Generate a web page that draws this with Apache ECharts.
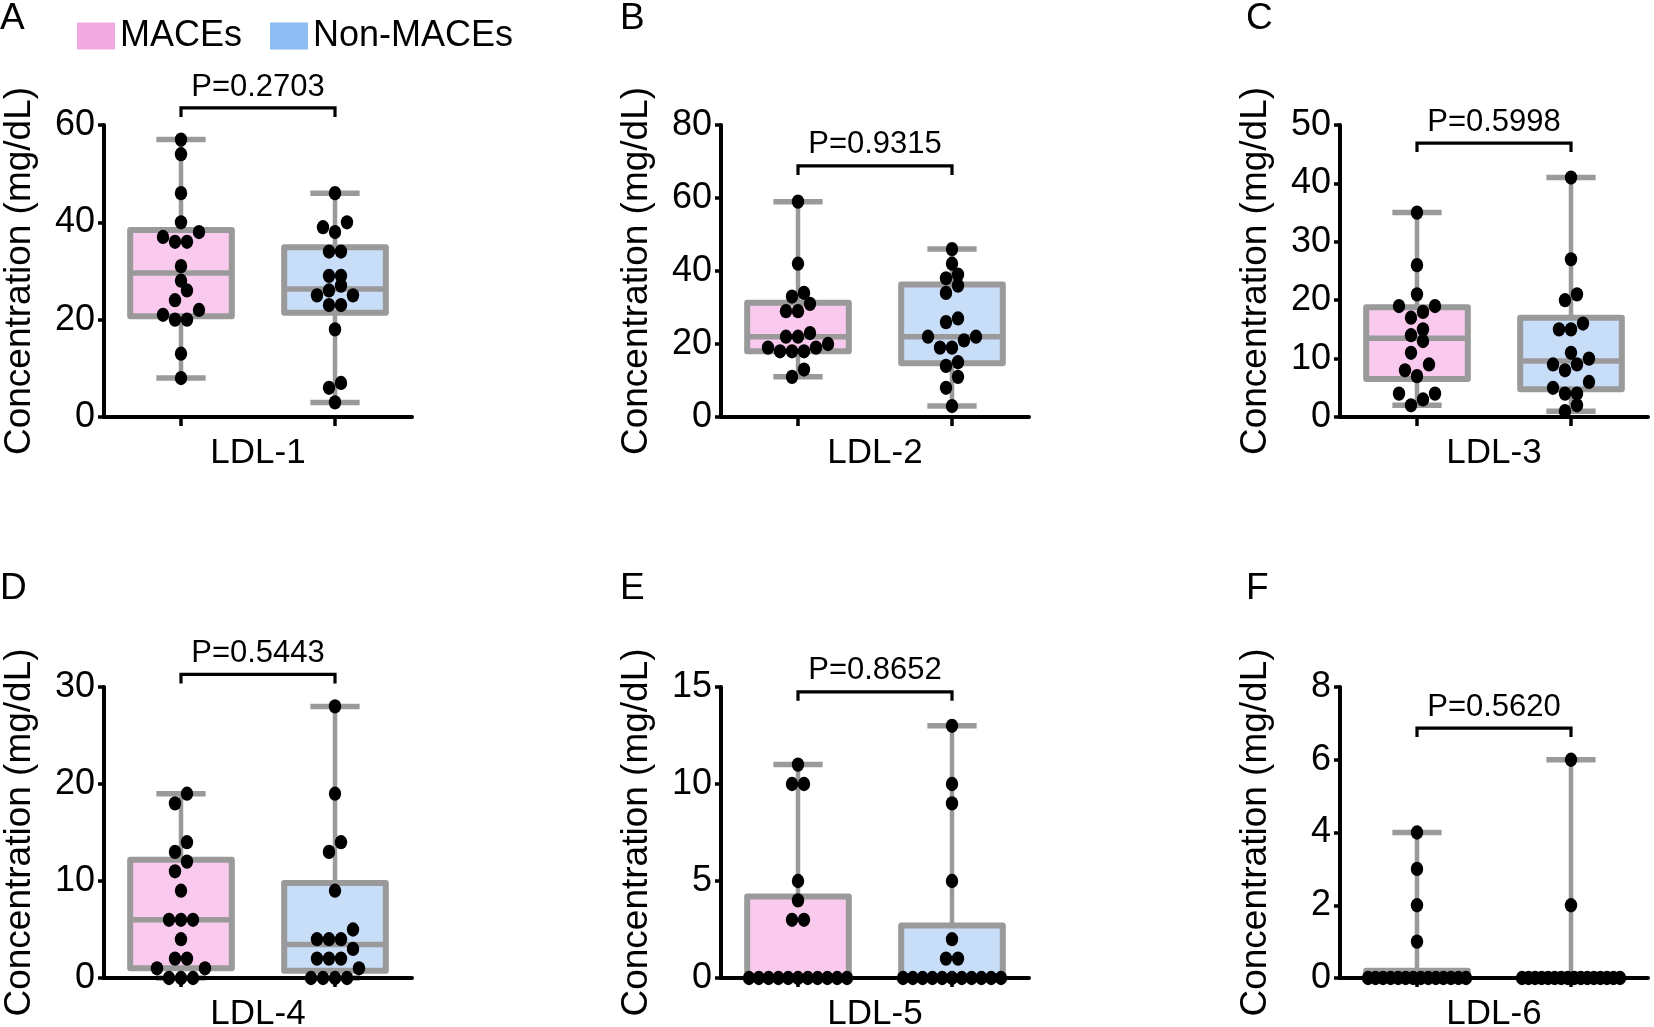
<!DOCTYPE html>
<html>
<head>
<meta charset="utf-8">
<script src="https://cdn.jsdelivr.net/npm/echarts@6/dist/echarts.min.js"></script>
<style>
  html, body { margin: 0; padding: 0; background: #fff; }
  #chart { width: 1654px; height: 1027px; }
</style>
</head>
<body>
<div id="chart"></div>
<script>
// 分组与面板
const groups = ['MACEs', 'Non-MACEs'];
const panelLetters = ['A', 'B', 'C', 'D', 'E', 'F'];
const markers = ['LDL-1', 'LDL-2', 'LDL-3', 'LDL-4', 'LDL-5', 'LDL-6'];
const pTexts = ['P=0.2703', 'P=0.9315', 'P=0.5998', 'P=0.5443', 'P=0.8652', 'P=0.5620'];

// 纵轴刻度
const yMax = [60, 80, 50, 30, 15, 8];
const yStep = [20, 20, 10, 10, 5, 2];
// 显著性括号所在的数值高度
const bracketLevel = [63.5, 68.8, 46.9, 31.3, 14.75, 6.87];

// 箱线统计 [min, Q1, median, Q3, max]
const boxMaces = [
    [8, 20.7, 29.6, 38.4, 57],
    [11, 18, 22, 31.3, 59],
    [2, 6.5, 13.5, 18.8, 35],
    [0, 1, 6, 12.2, 19],
    [0, 0, 0, 4.2, 11],
    [0, 0, 0, 0.2, 4]
];
const boxNon = [
    [3, 21.4, 26.3, 34.9, 46],
    [3, 14.7, 22, 36.3, 46],
    [1, 4.75, 9.6, 17, 41],
    [0, 0.75, 3.45, 9.8, 28],
    [0, 0, 0, 2.7, 13],
    [0, 0, 0, 0, 6]
];

// 个体数据点
const ptsMaces = [
    [57, 54, 46, 40, 38, 37, 36, 36, 31, 28, 26, 24, 22, 21, 20, 20, 13, 8],
    [59, 42, 34, 33, 31, 29, 29, 23, 22, 22, 20, 19, 19, 18, 18, 18, 13, 11],
    [35, 26, 21, 19, 19, 18, 17, 15, 14, 13, 11, 9, 8, 7, 4, 4, 3, 2],
    [19, 18, 14, 13, 12, 11, 9, 6, 6, 6, 4, 2, 2, 1, 1, 0, 0, 0],
    [11, 10, 10, 5, 4, 3, 3, 0, 0, 0, 0, 0, 0, 0, 0, 0, 0, 0],
    [4, 3, 2, 1, 0, 0, 0, 0, 0, 0, 0, 0, 0, 0, 0, 0, 0, 0]
];
const ptsNon = [
    [46, 40, 39, 38, 34, 34, 29, 29, 27, 26, 25, 25, 23, 23, 18, 7, 6, 3],
    [46, 42, 39, 38, 36, 34, 27, 26, 22, 22, 21, 19, 19, 15, 14, 11, 8, 3],
    [41, 27, 21, 20, 16, 15, 15, 11, 10, 9, 9, 8, 6, 5, 4, 4, 2, 1],
    [28, 19, 14, 13, 9, 5, 4, 4, 4, 3, 2, 2, 2, 1, 0, 0, 0, 0],
    [13, 10, 9, 5, 2, 1, 1, 0, 0, 0, 0, 0, 0, 0, 0, 0, 0, 0],
    [6, 2, 0, 0, 0, 0, 0, 0, 0, 0, 0, 0, 0, 0, 0, 0, 0, 0]
];

const FONT = 'Arial, "Liberation Sans", sans-serif';
const GRAY = '#9a9a9a';
const boxFill = ['#f9caee', '#c8ddf8'];
const legendFill = ['#f2abe0', '#8cbcf2'];

const gridLeft = [104, 721, 1340];
const gridTop = [125, 687];
const gridHeight = [292, 291];

// 蜂群图：按行分组并居中排列
function swarmOffsets(ys, d, rowH, maxSpan) {
    const order = ys.map((y, i) => i).sort((a, b) => ys[b] - ys[a]);
    const off = ys.map(() => 0);
    let row = [];
    const flush = () => {
        const n = row.length;
        if (!n) return;
        const s = n > 1 ? Math.min(d, maxSpan / (n - 1)) : 0;
        const slots = [];
        for (let k = 0; k < n; k++) slots.push((k - (n - 1) / 2) * s);
        slots.sort((a, b) => Math.abs(a) - Math.abs(b) || a - b);
        row.forEach((i, k) => { off[i] = slots[k]; });
        row = [];
    };
    order.forEach(i => {
        if (row.length && ys[row[0]] - ys[i] >= rowH) flush();
        row.push(i);
    });
    flush();
    return off;
}

const swarmCache = {};

function renderBox(params, api) {
    const c = api.value(0);
    const lo = api.coord([c, api.value(1)]);
    const q1 = api.coord([c, api.value(2)]);
    const md = api.coord([c, api.value(3)]);
    const q3 = api.coord([c, api.value(4)]);
    const hi = api.coord([c, api.value(5)]);
    const band = api.size([1, 0])[0];
    const bw = band * 0.66;
    const cw = band * 0.32;
    const x = lo[0];
    return {
        type: 'group',
        children: [
            { type: 'line', shape: { x1: x, y1: hi[1], x2: x, y2: lo[1] }, style: { stroke: GRAY, lineWidth: 4.5 } },
            { type: 'line', shape: { x1: x - cw / 2, y1: hi[1], x2: x + cw / 2, y2: hi[1] }, style: { stroke: GRAY, lineWidth: 5.5 } },
            { type: 'line', shape: { x1: x - cw / 2, y1: lo[1], x2: x + cw / 2, y2: lo[1] }, style: { stroke: GRAY, lineWidth: 5.5 } },
            {
                type: 'rect',
                shape: { x: x - bw / 2, y: q3[1], width: bw, height: q1[1] - q3[1] },
                style: { fill: api.visual('color'), stroke: GRAY, lineWidth: 6, lineJoin: 'round' }
            },
            { type: 'line', shape: { x1: x - bw / 2, y1: md[1], x2: x + bw / 2, y2: md[1] }, style: { stroke: GRAY, lineWidth: 5.5 } }
        ]
    };
}

function makeDotRenderer(key, values) {
    return function (params, api) {
        const c = api.value(0);
        const p = api.coord([c, api.value(1)]);
        const base = api.coord([c, 0]);
        const unit = api.coord([c, 1]);
        const sig = base[0] + ',' + base[1] + ',' + unit[1];
        if (!swarmCache[key] || swarmCache[key].sig !== sig) {
            const ys = values.map(v => api.coord([c, v])[1]);
            swarmCache[key] = { sig: sig, off: swarmOffsets(ys, 12, 12.5, 98) };
        }
        const dx = swarmCache[key].off[params.dataIndex];
        return {
            type: 'circle',
            x: p[0] + dx,
            y: p[1],
            scaleY: 1.15,
            shape: { cx: 0, cy: 0, r: 6.2 },
            style: { fill: '#000' }
        };
    };
}

const bracketPanel = {};

function renderBracket(params, api) {
    const level = api.value(1);
    const a = api.coord([0, level]);
    const b = api.coord([1, level]);
    return {
        type: 'group',
        children: [
            {
                type: 'polyline',
                shape: { points: [[a[0], a[1] + 9], [a[0], a[1]], [b[0], b[1]], [b[0], b[1] + 9]] },
                style: { stroke: '#000', lineWidth: 3.2, fill: null }
            },
            {
                type: 'text',
                x: (a[0] + b[0]) / 2,
                y: a[1] - 21,
                style: {
                    text: pTexts[bracketPanel[params.seriesIndex]],
                    fill: '#000', font: '31px ' + FONT, align: 'center', verticalAlign: 'middle'
                }
            }
        ]
    };
}

const grids = [], xAxes = [], yAxes = [], series = [], titles = [];

panelLetters.forEach((letter, p) => {
    const col = p % 3, row = Math.floor(p / 3);
    grids.push({
        left: gridLeft[col], top: gridTop[row], width: 308, height: gridHeight[row],
        containLabel: false, outerBoundsMode: 'none'
    });
    titles.push({
        text: letter,
        left: [0, 620, 1246][col],
        top: row === 0 ? 0 : 570,
        padding: 0,
        textStyle: { fontSize: 37, fontWeight: 'normal', color: '#000', fontFamily: FONT }
    });
    xAxes.push({
        type: 'category', gridIndex: p, data: groups, boundaryGap: true,
        name: markers[p], nameLocation: 'middle', nameGap: 19,
        nameTextStyle: { fontSize: 35, color: '#000', fontFamily: FONT },
        axisLine: { show: true, lineStyle: { color: '#000', width: 4 } },
        axisTick: { show: true, alignWithLabel: true, length: 9, lineStyle: { color: '#000', width: 3.5 } },
        axisLabel: { show: false },
        splitLine: { show: false }
    });
    yAxes.push({
        type: 'value', gridIndex: p, min: 0, max: yMax[p], interval: yStep[p],
        name: 'Concentration (mg/dL)', nameLocation: 'middle', nameGap: 66,
        nameTextStyle: { fontSize: 37, color: '#000', fontFamily: FONT },
        axisLine: { show: true, lineStyle: { color: '#000', width: 4 } },
        axisTick: { show: true, length: 6, lineStyle: { color: '#000', width: 3.5 } },
        axisLabel: { fontSize: 36, color: '#000', margin: 9, fontFamily: FONT },
        splitLine: { show: false }
    });

    const boxes = [boxMaces[p], boxNon[p]];
    const pts = [ptsMaces[p], ptsNon[p]];
    groups.forEach((g, gi) => {
        series.push({
            type: 'custom', name: g, xAxisIndex: p, yAxisIndex: p, z: -1,
            itemStyle: { color: boxFill[gi] },
            renderItem: renderBox,
            data: [[gi].concat(boxes[gi])]
        });
    });
    groups.forEach((g, gi) => {
        series.push({
            type: 'custom', name: g + ' points', xAxisIndex: p, yAxisIndex: p, z: 5,
            renderItem: makeDotRenderer(p + '-' + gi, pts[gi]),
            data: pts[gi].map(v => [gi, v])
        });
    });
    bracketPanel[series.length] = p;
    series.push({
        type: 'custom', name: 'bracket', xAxisIndex: p, yAxisIndex: p, z: 5,
        renderItem: renderBracket,
        data: [[0, bracketLevel[p]]]
    });
});

const chart = echarts.init(document.getElementById('chart'));
chart.setOption({
    animation: false,
    backgroundColor: '#fff',
    textStyle: { fontFamily: FONT },
    title: titles,
    legend: {
        left: 72, top: 13, itemWidth: 38, itemHeight: 27, itemGap: 28,
        selectedMode: false, icon: 'rect',
        textStyle: { fontSize: 36, color: '#000', fontFamily: FONT },
        data: groups.map((g, gi) => ({ name: g, icon: 'rect', itemStyle: { color: legendFill[gi], borderWidth: 0 } }))
    },
    grid: grids,
    xAxis: xAxes,
    yAxis: yAxes,
    series: series
});
</script>
</body>
</html>
